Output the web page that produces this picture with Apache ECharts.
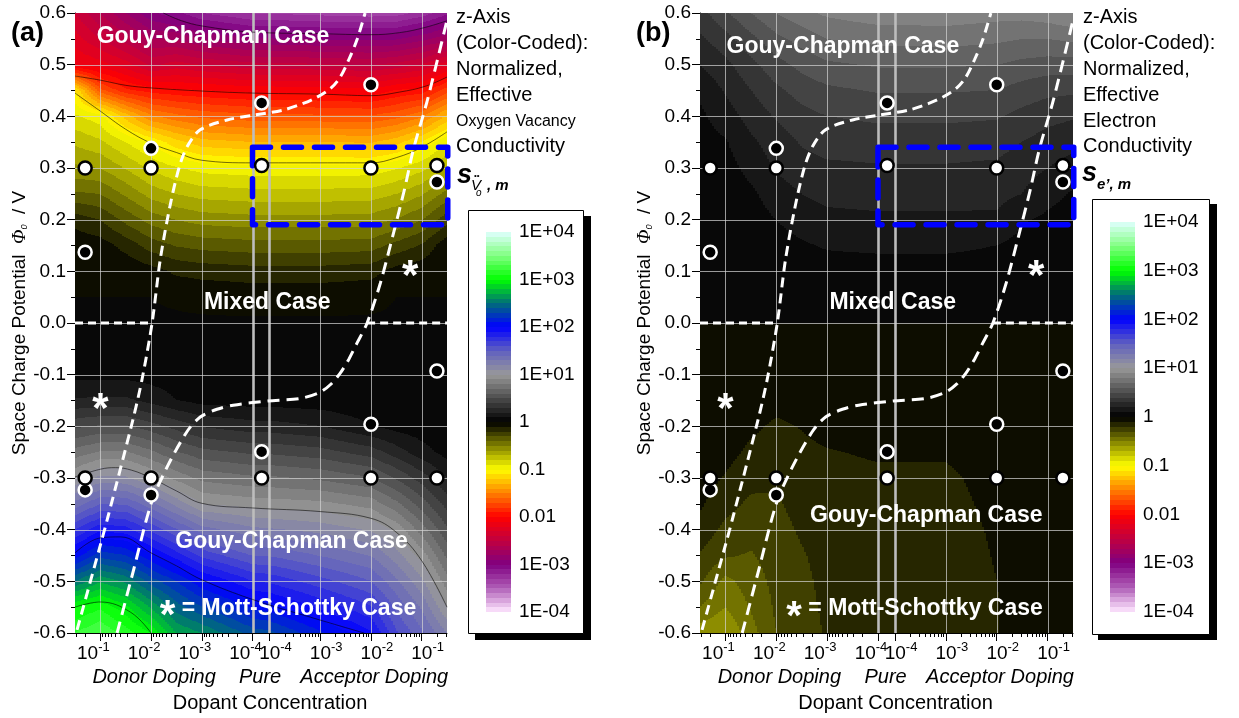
<!DOCTYPE html>
<html>
<head>
<meta charset="utf-8">
<script src="https://cdn.jsdelivr.net/npm/echarts@6/dist/echarts.min.js"></script>
<style>
html,body{margin:0;padding:0;background:#fff;}
#chart{width:1239px;height:718px;}
</style>
</head>
<body>
<div id="chart"></div>
<script>
// ================= DATA =================
// x positions in "decade units": donor 10^-1 .. 10^-4 at 1..4, acceptor 10^-4 .. 10^-1 at 4.335..7.335
const xNodes = [0.5, 1, 1.5, 2, 2.5, 3, 4, 4.335, 5.335, 6.335, 6.835, 7.335, 7.835];
const yNodes = [0.6, 0.55, 0.5, 0.45, 0.4, 0.35, 0.3, 0.25, 0.2, 0.15, 0.1, 0.05, 0,
                -0.05, -0.1, -0.15, -0.2, -0.25, -0.3, -0.35, -0.4, -0.45, -0.5, -0.55, -0.6];

// log10 of normalized effective oxygen-vacancy conductivity, one column per xNode (top -> bottom)
const logSigmaVo = [
  [-2.4,-2.25,-2.1,-1.1,-0.885,-0.72,-0.58,-0.38,-0.14,-0.03,0,0,0.01,0.03,0.07,0.21,0.475,0.74,1.0,1.34,1.7,2.05,2.5,3.0,3.2],
  [-2.6,-2.4,-2.15,-1.67,-0.96,-0.78,-0.6,-0.4,-0.2,-0.05,-0.01,0,0.01,0.03,0.07,0.22,0.51,0.81,1.13,1.5,1.88,2.27,2.68,3.08,3.3],
  [-2.8,-2.55,-2.25,-1.88,-1.25,-0.9,-0.71,-0.52,-0.33,-0.14,-0.02,0,0.01,0.03,0.07,0.22,0.51,0.81,1.12,1.49,1.85,2.21,2.57,2.93,3.15],
  [-2.98,-2.7,-2.42,-1.95,-1.49,-1.02,-0.82,-0.64,-0.44,-0.25,-0.06,0,0.01,0.03,0.06,0.16,0.44,0.72,1.0,1.34,1.68,2.03,2.35,2.68,3.0],
  [-3.07,-2.71,-2.35,-1.98,-1.57,-1.16,-0.89,-0.7,-0.5,-0.31,-0.12,-0.01,0.01,0.02,0.05,0.1,0.36,0.61,0.87,1.17,1.52,1.86,2.2,2.45,2.7],
  [-3.2,-2.8,-2.4,-2.0,-1.63,-1.26,-0.94,-0.74,-0.54,-0.34,-0.14,-0.02,0.01,0.02,0.04,0.06,0.29,0.53,0.77,1.0,1.35,1.68,2.02,2.3,2.6],
  [-3.31,-2.89,-2.46,-2.04,-1.67,-1.3,-0.96,-0.76,-0.56,-0.36,-0.16,-0.03,0.01,0.02,0.04,0.05,0.24,0.48,0.72,0.96,1.23,1.5,1.8,2.08,2.35],
  [-3.31,-2.89,-2.46,-2.04,-1.67,-1.3,-0.96,-0.76,-0.56,-0.36,-0.16,-0.03,0.01,0.02,0.04,0.05,0.24,0.48,0.72,0.95,1.22,1.5,1.78,2.05,2.33],
  [-3.34,-2.91,-2.48,-2.05,-1.68,-1.3,-0.96,-0.76,-0.56,-0.36,-0.16,-0.03,0.01,0.02,0.03,0.04,0.2,0.44,0.68,0.93,1.17,1.4,1.64,1.88,2.12],
  [-3.36,-2.92,-2.5,-2.08,-1.69,-1.31,-0.96,-0.75,-0.55,-0.35,-0.14,-0.02,0.01,0.02,0.03,0.03,0.1,0.35,0.61,0.86,1.09,1.3,1.5,1.71,1.92],
  [-3.35,-2.91,-2.46,-2.0,-1.64,-1.24,-0.91,-0.7,-0.49,-0.27,-0.06,0,0.01,0.01,0.02,0.02,0.06,0.25,0.49,0.73,0.98,1.15,1.32,1.48,1.62],
  [-3.26,-2.83,-2.39,-1.96,-1.52,-1.09,-0.83,-0.61,-0.4,-0.19,-0.03,0,0.01,0.01,0.02,0.02,0.04,0.14,0.35,0.55,0.75,0.96,1.12,1.28,1.42],
  [-3.12,-2.74,-2.23,-1.75,-1.28,-0.91,-0.69,-0.46,-0.24,-0.03,0,0,0.01,0.01,0.01,0.01,0.03,0.06,0.2,0.36,0.52,0.68,0.84,1.0,1.2]
];

// log10 of normalized effective electron conductivity, one column per xNode (top -> bottom)
const logSigmaE = [
  [0.36,0.28,0.2,0.12,0.08,0.06,0.05,0.04,0.04,0.03,0.03,0.03,0,-0.05,-0.05,-0.05,-0.05,-0.05,-0.05,-0.085,-0.14,-0.21,-0.28,-0.4,-0.56],
  [0.48,0.36,0.27,0.21,0.15,0.09,0.06,0.05,0.04,0.03,0.03,0.03,0,-0.05,-0.05,-0.05,-0.05,-0.065,-0.107,-0.165,-0.225,-0.29,-0.43,-0.5,-0.6],
  [0.6,0.47,0.37,0.3,0.24,0.18,0.13,0.08,0.05,0.04,0.03,0.03,0,-0.05,-0.05,-0.05,-0.08,-0.12,-0.17,-0.22,-0.265,-0.31,-0.35,-0.39,-0.44],
  [0.7,0.57,0.46,0.38,0.31,0.25,0.21,0.15,0.1,0.06,0.04,0.03,0,-0.05,-0.05,-0.07,-0.115,-0.145,-0.18,-0.215,-0.24,-0.255,-0.27,-0.285,-0.3],
  [0.77,0.64,0.53,0.44,0.37,0.31,0.26,0.2,0.14,0.09,0.05,0.03,0,-0.05,-0.05,-0.06,-0.095,-0.12,-0.14,-0.16,-0.185,-0.21,-0.225,-0.235,-0.245],
  [0.82,0.7,0.58,0.48,0.4,0.34,0.28,0.23,0.17,0.11,0.06,0.03,0,-0.05,-0.05,-0.05,-0.07,-0.105,-0.125,-0.14,-0.15,-0.16,-0.17,-0.18,-0.19],
  [0.86,0.73,0.61,0.51,0.42,0.35,0.29,0.24,0.18,0.12,0.06,0.03,0,-0.05,-0.05,-0.05,-0.06,-0.09,-0.115,-0.125,-0.13,-0.135,-0.14,-0.14,-0.145],
  [0.86,0.73,0.61,0.51,0.42,0.35,0.29,0.24,0.18,0.12,0.06,0.03,0,-0.05,-0.05,-0.05,-0.06,-0.09,-0.115,-0.125,-0.13,-0.135,-0.14,-0.14,-0.145],
  [0.86,0.74,0.61,0.51,0.42,0.35,0.29,0.24,0.18,0.12,0.06,0.03,0,-0.05,-0.05,-0.05,-0.06,-0.09,-0.115,-0.125,-0.13,-0.135,-0.14,-0.14,-0.14],
  [0.84,0.72,0.6,0.5,0.41,0.34,0.28,0.23,0.18,0.1,0.06,0.03,0,-0.05,-0.05,-0.05,-0.05,-0.06,-0.07,-0.08,-0.09,-0.095,-0.1,-0.105,-0.105],
  [0.84,0.7,0.57,0.46,0.37,0.3,0.24,0.2,0.11,0.07,0.05,0.03,0,-0.05,-0.05,-0.05,-0.05,-0.05,-0.05,-0.05,-0.05,-0.05,-0.05,-0.05,-0.05],
  [0.86,0.7,0.55,0.43,0.33,0.26,0.2,0.13,0.08,0.05,0.04,0.03,0,-0.05,-0.05,-0.05,-0.05,-0.05,-0.05,-0.05,-0.05,-0.05,-0.05,-0.05,-0.05],
  [0.9,0.72,0.55,0.42,0.31,0.24,0.15,0.09,0.06,0.04,0.03,0.03,0,-0.05,-0.05,-0.05,-0.05,-0.05,-0.05,-0.05,-0.05,-0.05,-0.05,-0.05,-0.05]
];

// thin contour lines of panel (a) (decade levels -3,-2,-1,+1,+2,+3)
const isoVoM3 = [[2.24,0.6],[2.6,0.585],[3,0.575],[4,0.563],[5.335,0.56],[6.335,0.558],[6.9,0.562],[7.4,0.572],[7.835,0.585]];
const isoVoM2 = [[0.5,0.478],[1,0.47],[1.5,0.46],[2,0.455],[3,0.449],[4,0.445],[5.335,0.443],[6.335,0.44],[6.9,0.447],[7.4,0.458],[7.835,0.476]];
const isoVoM1 = [[0.5,0.445],[1,0.41],[1.5,0.375],[2,0.348],[2.5,0.33],[3,0.315],[4,0.31],[5.335,0.31],[6.335,0.31],[6.835,0.32],[7.335,0.34],[7.835,0.37]];
const isoVoP1 = [[0.5,-0.298],[1,-0.283],[1.3,-0.28],[1.62,-0.285],[2,-0.3],[2.5,-0.325],[3,-0.349],[4,-0.358],[5.335,-0.365],[6.335,-0.378],[6.835,-0.405],[7.335,-0.46],[7.835,-0.55]];
const isoVoP2 = [[0.5,-0.445],[1,-0.416],[1.4,-0.414],[2,-0.445],[2.5,-0.47],[3,-0.497],[4,-0.535],[5.335,-0.575],[6.2,-0.6]];
const isoVoP3 = [[0.5,-0.55],[1,-0.54],[1.6,-0.56],[2,-0.6]];

// white dashed boundaries
const curveA = [[0.54,-0.594],[1.0,-0.43],[1.15,-0.375],[1.64,-0.188],[1.82,-0.11],[2.02,0],[2.18,0.122],[2.37,0.225],[2.55,0.3],[2.71,0.341],[2.97,0.374],[3.5,0.393],[4.01,0.402],[4.6,0.412],[5.0,0.425],[5.27,0.437],[5.55,0.455],[5.73,0.476],[5.9,0.51],[6.06,0.548],[6.22,0.6]];
const curveB = [[1.33,-0.6],[1.65,-0.48],[2.0,-0.35],[2.31,-0.28],[2.71,-0.21],[2.97,-0.182],[3.3,-0.167],[3.62,-0.159],[4.29,-0.151],[4.94,-0.146],[5.33,-0.134],[5.55,-0.118],[5.73,-0.097],[5.9,-0.07],[6.06,-0.039],[6.26,0],[6.52,0.077],[6.78,0.174],[7.0,0.26],[7.17,0.335],[7.45,0.432],[7.835,0.586]];
const zeroLeft = [[0.5,0],[2.02,0]];
const zeroRight = [[6.26,0],[7.835,0]];
const blueBox = [[4.0,0.34],[7.85,0.34],[7.85,0.19],[4.0,0.19],[4.0,0.34]];

// data points
const whitePoints = [[0.7,0.30],[2,0.30],[4.18,0.305],[6.335,0.30],[7.636,0.305],[0.7,-0.30],[2,-0.30],[4.18,-0.30],[6.335,-0.30],[7.636,-0.30]];
const blackPoints = [[0.7,0.137],[2,0.338],[4.18,0.426],[6.335,0.461],[7.636,0.273],[0.7,-0.323],[2,-0.333],[4.18,-0.249],[6.335,-0.196],[7.636,-0.093]];
const starPoints = [[7.11,0.108],[1.0,-0.149]];

// ticks / labels
const xTickPos = [1, 2, 3, 4, 4.335, 5.335, 6.335, 7.335];
const xTickExp = ['-1','-2','-3','-4','-4','-3','-2','-1'];
const dopingLabelPos = [2.06, 4.15, 6.4];
const dopingLabels = ['Donor Doping', 'Pure', 'Acceptor Doping'];
const colorbarLabels = ['1E-04','1E-03','0.01','0.1','1','1E+01','1E+02','1E+03','1E+04'];
const gridX = [1, 2, 3, 5.335, 6.335, 7.335];
const gridXThick = [4, 4.335];
const gridY = [0.5,0.4,0.3,0.2,0.1,0,-0.1,-0.2,-0.3,-0.4,-0.5];

const annotA = [
  {value:[3.22,0.555], name:'Gouy-Chapman Case'},
  {value:[4.29,0.04], name:'Mixed Case'},
  {value:[4.77,-0.423], name:'Gouy-Chapman Case'},
  {value:[4.7,-0.552], name:'{st|*} = Mott-Schottky Case'}
];
const annotB = [
  {value:[3.31,0.534], name:'Gouy-Chapman Case'},
  {value:[4.29,0.04], name:'Mixed Case'},
  {value:[4.95,-0.372], name:'Gouy-Chapman Case'},
  {value:[4.72,-0.553], name:'{st|*} = Mott-Schottky Case'}
];

// ================= COLOUR MAP =================
const cmapStops = [-4,-3.5,-3,-2.5,-2,-1.5,-1,-0.5,0,0.5,1,1.5,2,2.5,3,3.5,4];
const cmapColors = [[255,232,255],[176,96,184],[128,0,128],[192,0,64],[255,0,0],[255,128,0],[255,255,0],[128,128,0],[0,0,0],[76,76,76],[153,153,153],[96,96,192],[0,0,255],[0,110,120],[0,255,0],[128,255,128],[224,255,255]];
function cmap(L) {
  if (L <= cmapStops[0]) return cmapColors[0];
  for (let i = 1; i < cmapStops.length; i++) {
    if (L <= cmapStops[i]) {
      const t = (L - cmapStops[i-1]) / (cmapStops[i] - cmapStops[i-1]);
      const a = cmapColors[i-1], b = cmapColors[i];
      return [0,1,2].map(j => Math.round(a[j] + (b[j]-a[j]) * t));
    }
  }
  return cmapColors[cmapColors.length-1];
}
const bandCache = {};
function bandColor(k) {
  if (!(k in bandCache)) { const c = cmap((k + 0.5) / 10); bandCache[k] = 'rgb(' + c[0] + ',' + c[1] + ',' + c[2] + ')'; }
  return bandCache[k];
}

// ================= RENDERERS =================
function cellData(field) {
  const out = [];
  for (let i = 0; i < xNodes.length - 1; i++) {
    for (let j = 0; j < yNodes.length - 1; j++) {
      out.push([xNodes[i], yNodes[j], xNodes[i+1], yNodes[j+1], field[i][j], field[i+1][j], field[i][j+1], field[i+1][j+1]]);
    }
  }
  return out;
}
function renderField(params, api) {
  const x0 = api.value(0), y0 = api.value(1), x1 = api.value(2), y1 = api.value(3);
  const a = api.value(4), b = api.value(5), c = api.value(6), d = api.value(7);
  const p0 = api.coord([x0, y0]), p1 = api.coord([x1, y1]);
  const X0 = Math.round(p0[0]), X1 = Math.round(p1[0]), Y0 = Math.round(p0[1]), Y1 = Math.round(p1[1]);
  const W = X1 - X0, H = Y1 - Y0;
  const children = [];
  for (let px = X0; px < X1; px += 2) {
    const w = Math.min(2, X1 - px);
    const s = (px + w / 2 - X0) / W;
    let runStart = Y0, runBand = null;
    for (let py = Y0; py <= Y1; py++) {
      let band = null;
      if (py < Y1) {
        const t = (py + 0.5 - Y0) / H;
        const L = (1-s)*(1-t)*a + s*(1-t)*b + (1-s)*t*c + s*t*d;
        band = Math.floor(L * 10 + 1e-9);
      }
      if (band !== runBand) {
        if (runBand !== null) {
          children.push({type:'rect', shape:{x:px, y:runStart, width:w, height:py - runStart}, style:{fill:bandColor(runBand)}});
        }
        runStart = py; runBand = band;
      }
    }
  }
  return {type:'group', children: children};
}
function renderGridLines(params, api) {
  const kind = api.value(0), v = api.value(1);
  if (kind === 2) {
    const p0 = api.coord([0.5, v]), p1 = api.coord([7.835, v]);
    const y = Math.round(p0[1]) + 0.5;
    return {type:'line', shape:{x1:p0[0], y1:y, x2:p1[0], y2:y}, style:{stroke:'rgba(210,210,210,0.72)', lineWidth:1}};
  }
  const p0 = api.coord([v, 0.6]), p1 = api.coord([v, -0.6]);
  const x = Math.round(p0[0]) + 0.5;
  if (kind === 1) {
    return {type:'line', shape:{x1:x, y1:p0[1], x2:x, y2:p1[1]}, style:{stroke:'#bdbdbd', lineWidth:2.6}};
  }
  return {type:'line', shape:{x1:x, y1:p0[1], x2:x, y2:p1[1]}, style:{stroke:'rgba(210,210,210,0.72)', lineWidth:1}};
}
function renderColorbar(params, api) {
  const k = api.value(0);
  const p0 = api.coord([0, (k + 1) / 10]), p1 = api.coord([1, k / 10]);
  const X0 = Math.round(p0[0]), X1 = Math.round(p1[0]), Y0 = Math.round(p0[1]), Y1 = Math.round(p1[1]);
  return {type:'rect', shape:{x:X0, y:Y0, width:X1 - X0, height:Y1 - Y0}, style:{fill:bandColor(k)}};
}

// ================= OPTION BUILDERS =================
const FONT = 'Liberation Sans, Arial, Helvetica, sans-serif';
const minorTickPos = [];
for (let n = 1; n <= 4; n++) {
  for (let m = 2; m <= 9; m++) {
    const ud = n - Math.log10(m);            // donor side
    const ua = 8.335 - n + Math.log10(m);    // acceptor side
    if (ud >= 0.5 && !(n === 1 && ud > 1)) minorTickPos.push(ud);
    if (ua <= 7.835) minorTickPos.push(ua);
  }
}
const xRich = {
  d:  {fontSize:19, fontFamily:FONT, color:'#000', lineHeight:22, verticalAlign:'bottom', padding:[3,0,0,0]},
  ds: {fontSize:13, fontFamily:FONT, color:'#000', lineHeight:14, verticalAlign:'top', padding:[0,14,0,0]},
  a:  {fontSize:19, fontFamily:FONT, color:'#000', lineHeight:22, verticalAlign:'bottom', padding:[3,0,0,12]},
  as: {fontSize:13, fontFamily:FONT, color:'#000', lineHeight:14, verticalAlign:'top'}
};
function fmtX(v) {
  let i = 0;
  for (let k = 0; k < xTickPos.length; k++) if (Math.abs(xTickPos[k] - v) < 1e-6) i = k;
  const side = i < 4 ? 'd' : 'a';
  return '{' + side + '|10}{' + side + 's|' + xTickExp[i] + '}';
}
function xAxesFor(gi) {
  return [{
    gridIndex: gi, type:'value', min:0.5, max:7.835, position:'bottom',
    axisLine:{show:true, onZero:false, lineStyle:{color:'#000', width:1}},
    axisTick:{show:true, inside:false, length:8, customValues:xTickPos, lineStyle:{color:'#000', width:1}},
    axisLabel:{show:true, customValues:xTickPos, margin:8, formatter:fmtX, rich:xRich, color:'#000'},
    splitLine:{show:false},
    name:'Dopant Concentration', nameLocation:'middle', nameGap:60,
    nameTextStyle:{fontSize:20, color:'#000', fontFamily:FONT, padding:[0,0,0,18]}
  }, {
    gridIndex: gi, type:'value', min:0.5, max:7.835, position:'bottom',
    axisLine:{show:false, onZero:false},
    axisTick:{show:true, inside:false, length:4, customValues:minorTickPos, lineStyle:{color:'#000', width:1}},
    axisLabel:{show:false}, splitLine:{show:false}
  }, {
    gridIndex: gi, type:'value', min:0.5, max:7.835, position:'bottom',
    axisLine:{show:false, onZero:false}, axisTick:{show:false},
    axisLabel:{show:true, customValues:dopingLabelPos, margin:34, fontSize:20, fontStyle:'italic', color:'#000', fontFamily:FONT,
      formatter: function (v) { let i = 0; for (let k = 0; k < dopingLabelPos.length; k++) if (Math.abs(dopingLabelPos[k]-v) < 1e-6) i = k; return dopingLabels[i]; }},
    splitLine:{show:false}
  }];
}
function yAxisFor(gi) {
  return {
    gridIndex: gi, type:'value', min:-0.6, max:0.6, interval:0.1,
    axisLine:{show:true, onZero:false, lineStyle:{color:'#000', width:1}},
    axisTick:{show:true, length:8, lineStyle:{color:'#000'}},
    minorTick:{show:true, splitNumber:2, length:4, lineStyle:{color:'#000'}},
    axisLabel:{fontSize:19, color:'#000', margin:9, fontFamily:FONT,
      formatter: function (v) { const r = Math.round(v * 10) / 10; return r === 0 ? '0.0' : r.toFixed(1); }},
    splitLine:{show:false}, minorSplitLine:{show:false},
    name:'Space Charge Potential  {phi|\u03A6}{sub|0}  / V', nameLocation:'middle', nameGap:44, nameRotate:90,
    nameTextStyle:{fontSize:19, color:'#000', fontFamily:FONT,
      rich:{phi:{fontSize:19, fontStyle:'italic', fontFamily:'Liberation Serif, serif', color:'#000'},
            sub:{fontSize:9, fontStyle:'italic', color:'#000', verticalAlign:'bottom'}}}
  };
}
function cbYAxis(gi) {
  return {
    gridIndex: gi, type:'value', min:-4, max:4, interval:1, position:'right',
    axisLine:{show:false}, axisTick:{show:false}, splitLine:{show:false},
    axisLabel:{margin:8, fontSize:19, color:'#000', fontFamily:FONT,
      formatter: function (v) { return colorbarLabels[Math.round(v) + 4]; }}
  };
}
function lineS(xi, yi, data, style, z, extra) {
  return Object.assign({type:'line', xAxisIndex:xi, yAxisIndex:yi, data:data, symbol:'none', showSymbol:false,
    lineStyle:style, z:z, silent:true, animation:false}, extra || {});
}
function panelSeries(xi, yi, field, annots, withIso) {
  const s = [];
  s.push({type:'custom', xAxisIndex:xi, yAxisIndex:yi, renderItem:renderField, data:cellData(field), silent:true, z:1, animation:false});
  const gl = [];
  gridX.forEach(v => gl.push([0, v]));
  gridXThick.forEach(v => gl.push([1, v]));
  gridY.forEach(v => gl.push([2, v]));
  s.push({type:'custom', xAxisIndex:xi, yAxisIndex:yi, renderItem:renderGridLines, data:gl, silent:true, z:2, animation:false});
  if (withIso) {
    [isoVoM3, isoVoM2, isoVoM1, isoVoP1, isoVoP2, isoVoP3].forEach(iso => {
      s.push(lineS(xi, yi, iso, {color:'rgba(0,0,0,0.7)', width:0.8}, 3, {smooth:0.4}));
    });
  }
  s.push(lineS(xi, yi, curveA, {color:'#fff', width:3, type:[10,6]}, 4, {smooth:0.3}));
  s.push(lineS(xi, yi, curveB, {color:'#fff', width:3, type:[12,7]}, 4, {smooth:0.3}));
  s.push(lineS(xi, yi, zeroLeft, {color:'#fff', width:3, type:[8,5]}, 4));
  s.push(lineS(xi, yi, zeroRight, {color:'#fff', width:3, type:[8,5]}, 4));
  s.push(lineS(xi, yi, blueBox, {color:'#0000ff', width:5.5, type:[18,13], cap:'round', join:'round'}, 5, {clip:false}));
  s.push({type:'scatter', xAxisIndex:xi, yAxisIndex:yi, data:blackPoints, symbol:'circle', symbolSize:13,
    itemStyle:{color:'#000', borderColor:'#fff', borderWidth:2.5, opacity:1}, z:6, silent:true, animation:false});
  s.push({type:'scatter', xAxisIndex:xi, yAxisIndex:yi, data:whitePoints, symbol:'circle', symbolSize:13,
    itemStyle:{color:'#fff', borderColor:'#000', borderWidth:2.5, opacity:1}, z:7, silent:true, animation:false});
  s.push({type:'scatter', xAxisIndex:xi, yAxisIndex:yi, data:starPoints, symbolSize:1, itemStyle:{color:'rgba(0,0,0,0)', opacity:1},
    label:{show:true, position:'inside', formatter:'*', color:'#fff', opacity:1, fontSize:42, fontWeight:'bold', fontFamily:FONT, offset:[0,10]},
    z:8, silent:true, animation:false});
  s.push({type:'scatter', xAxisIndex:xi, yAxisIndex:yi, data:annots, symbolSize:1, itemStyle:{color:'rgba(0,0,0,0)', opacity:1},
    label:{show:true, position:'inside', formatter:'{b}', color:'#fff', opacity:1, fontSize:23, fontWeight:'bold', fontFamily:FONT,
      rich:{st:{fontSize:40, fontWeight:'bold', color:'#fff', fontFamily:FONT, padding:[18,0,0,0]}}},
    z:8, silent:true, animation:false});
  return s;
}

const cbBands = [];
for (let k = -40; k < 40; k++) cbBands.push([k]);

const infoText = function (lastLines) {
  return 'z-Axis\n(Color-Coded):\nNormalized,\nEffective\n' + lastLines + '\nConductivity';
};

const option = {
  backgroundColor:'#fff',
  animation:false,
  grid:[
    {left:75, top:13, width:372, height:620},
    {left:700, top:13, width:373, height:620},
    {left:486, top:232, width:25, height:380},
    {left:1110, top:222, width:25, height:390}
  ],
  xAxis: [].concat(xAxesFor(0), xAxesFor(1), [
    {gridIndex:2, type:'value', min:0, max:1, show:false},
    {gridIndex:3, type:'value', min:0, max:1, show:false}
  ]),
  yAxis: [yAxisFor(0), yAxisFor(1), cbYAxis(2), cbYAxis(3)],
  series: [].concat(
    panelSeries(0, 0, logSigmaVo, annotA, true),
    panelSeries(3, 1, logSigmaE, annotB, false),
    [
      {type:'custom', xAxisIndex:6, yAxisIndex:2, renderItem:renderColorbar, data:cbBands, silent:true, z:3, animation:false},
      {type:'custom', xAxisIndex:7, yAxisIndex:3, renderItem:renderColorbar, data:cbBands, silent:true, z:3, animation:false}
    ]
  ),
  graphic: [
    // colour-bar frames with drop shadow
    {type:'rect', shape:{x:475, y:216, width:116, height:424}, style:{fill:'#000'}, z:0},
    {type:'rect', shape:{x:468.5, y:210.5, width:115, height:423}, style:{fill:'#fff', stroke:'#000', lineWidth:1}, z:0},
    {type:'rect', shape:{x:1098, y:204, width:119, height:436}, style:{fill:'#000'}, z:0},
    {type:'rect', shape:{x:1092.5, y:199.5, width:117, height:435}, style:{fill:'#fff', stroke:'#000', lineWidth:1}, z:0},
    // panel letters
    {type:'text', x:11, y:34, style:{text:'(a)', fontSize:27, fontWeight:'bold', fontFamily:FONT, fill:'#000', verticalAlign:'middle'}},
    {type:'text', x:636, y:34, style:{text:'(b)', fontSize:27, fontWeight:'bold', fontFamily:FONT, fill:'#000', verticalAlign:'middle'}},
    // z-axis descriptions
    {type:'text', x:456, y:5, style:{text:infoText('{sm|Oxygen Vacancy}'), fontSize:20, fontFamily:FONT, fill:'#000', lineHeight:25.8, verticalAlign:'top',
      rich:{sm:{fontSize:16, fontFamily:FONT, fill:'#000', lineHeight:25.8}}}},
    {type:'text', x:1083, y:5, style:{text:infoText('Electron'), fontSize:20, fontFamily:FONT, fill:'#000', lineHeight:25.8, verticalAlign:'top'}},
    // sigma symbols
    {type:'text', x:457, y:176, style:{text:'s', fontSize:27, fontWeight:'bold', fontStyle:'italic', fontFamily:FONT, fill:'#000', verticalAlign:'middle'}},
    {type:'text', x:471, y:186, style:{text:'V', fontSize:15, fontStyle:'italic', fontFamily:FONT, fill:'#000', verticalAlign:'middle'}},
    {type:'text', x:474, y:176, style:{text:'\u2022\u2022', fontSize:8, fontFamily:FONT, fill:'#000', verticalAlign:'middle'}},
    {type:'text', x:476, y:193, style:{text:'o', fontSize:10, fontStyle:'italic', fontFamily:FONT, fill:'#000', verticalAlign:'middle'}},
    {type:'text', x:487, y:186, style:{text:', m', fontSize:15, fontStyle:'italic', fontWeight:'bold', fontFamily:FONT, fill:'#000', verticalAlign:'middle'}},
    {type:'text', x:1082, y:174, style:{text:'s', fontSize:27, fontWeight:'bold', fontStyle:'italic', fontFamily:FONT, fill:'#000', verticalAlign:'middle'}},
    {type:'text', x:1097, y:185, style:{text:'e\u2019, m', fontSize:15, fontStyle:'italic', fontWeight:'bold', fontFamily:FONT, fill:'#000', verticalAlign:'middle'}}
  ]
};

const chart = echarts.init(document.getElementById('chart'), null, {renderer:'canvas'});
chart.setOption(option);
</script>
</body>
</html>
